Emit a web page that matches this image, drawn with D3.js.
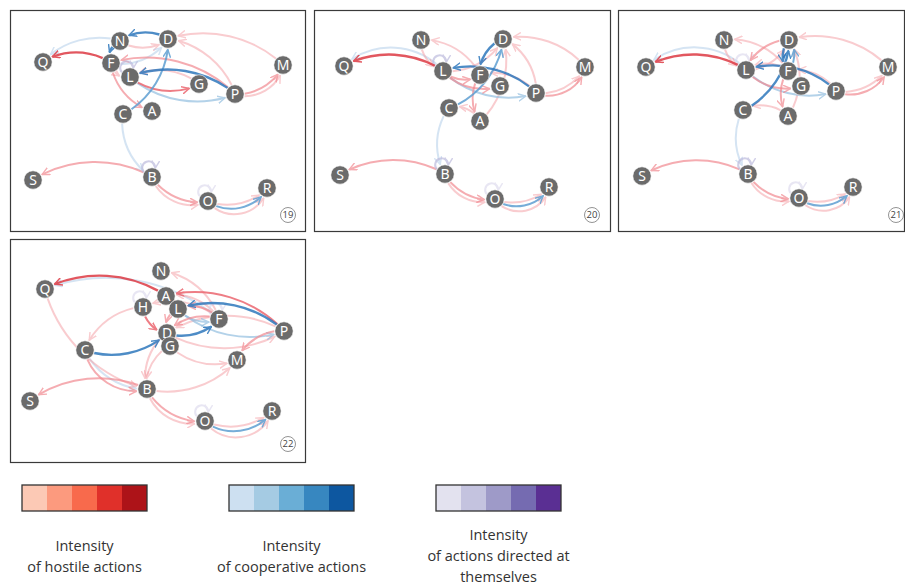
<!DOCTYPE html>
<html><head><meta charset="utf-8">
<script src="https://cdn.jsdelivr.net/npm/d3@7"></script>
<style>body{margin:0;background:#fff}svg{display:block;font-family:"Open Sans",sans-serif}</style>
</head><body><svg id="c" width="905" height="588"></svg>
<script>
// ---------- data ----------
const panelLabels = ["19", "20", "21", "22"];

// node layout per period: [name, x, y] in panel layout units (0..295 x 0..221)
const nodes19 = [["N",110,31],["D",158,29],["Q",33,52],["F",101,53],["M",273,55],["L",120,67],["G",189,74],["P",225,84],["C",113,104],["A",142,101],["S",23,170],["B",142,167],["O",198,191],["R",257,178]];
const nodes20 = [["N",107,30],["D",189,29],["Q",30,56],["L",129,61],["F",166,65],["M",271,57],["G",186,76],["P",222,83],["C",135,98],["A",166,111],["S",26,165],["B",131,164],["O",181,189],["R",235,177]];
const nodes21 = [["N",106,30],["D",171,30],["Q",28,57],["L",128,60],["F",170,61],["M",270,57],["G",183,76],["P",218,81],["C",125,100],["A",170,106],["S",24,166],["B",130,164],["O",181,188],["R",235,177]];
const nodes22 = [["N",151,32],["Q",35,50],["A",156,57],["H",133,68],["L",168,70],["F",209,80],["P",274,92],["D",157,94],["G",160,107],["C",75,111],["M",227,121],["B",137,150],["S",20,162],["O",195,182],["R",262,172]];

// edges: [source, target, kind (h = hostile, c = cooperative, s = self), intensity 1..5]
const edges19 = [["F","Q","h",4],["N","Q","c",1],["D","N","c",4],["N","F","c",4],["N","D","h",1],["M","D","h",1],["P","M","h",2],["P","M","h",1],["P","L","c",4],["L","P","c",2],["L","G","h",3],["F","A","h",2],["C","D","c",3],["F","D","c",1],["P","D","h",1],["P","F","h",2],["G","L","h",1],["F","L","h",1],["L","L","s",2],["C","B","c",1],["B","S","h",2],["B","O","h",2],["B","O","h",1],["O","R","h",1],["O","R","c",3],["O","R","h",1],["B","B","s",2],["O","O","s",1]];
const edges20 = [["L","Q","h",4],["L","Q","c",1],["F","N","h",1],["D","F","c",4],["C","D","c",3],["P","L","c",4],["L","P","c",2],["L","G","h",2],["M","D","h",1],["P","M","h",1],["P","M","h",2],["F","A","h",2],["A","D","h",1],["A","C","h",1],["P","F","h",1],["P","D","h",1],["L","F","h",2],["N","L","h",1],["L","D","h",1],["L","L","s",2],["C","B","c",1],["B","S","h",2],["B","O","h",2],["B","O","h",1],["O","R","h",1],["O","R","c",3],["O","R","h",1],["B","B","s",2],["O","O","s",1]];
const edges21 = [["L","Q","h",4],["L","Q","c",1],["F","N","h",1],["D","F","c",4],["F","D","c",3],["C","D","c",4],["P","L","c",4],["L","P","c",2],["L","G","h",2],["M","D","h",1],["P","M","h",1],["P","M","h",2],["F","A","h",2],["A","C","h",1],["L","D","h",1],["D","L","h",2],["P","F","h",1],["F","L","h",1],["N","L","h",1],["A","D","h",1],["L","L","s",1],["C","B","c",1],["B","S","h",2],["B","O","h",2],["B","O","h",1],["O","R","h",1],["O","R","c",3],["O","R","h",1],["B","B","s",2],["O","O","s",1]];
const edges22 = [["A","Q","h",4],["F","Q","c",1],["F","N","h",1],["P","L","c",4],["P","A","h",3],["D","F","c",4],["C","D","c",4],["C","B","c",1],["C","B","h",2],["B","S","h",2],["B","O","h",2],["B","O","h",1],["O","R","h",1],["O","R","c",3],["O","R","h",1],["H","C","h",1],["Q","B","h",1],["H","D","h",3],["L","F","c",2],["L","P","c",2],["F","L","h",2],["D","P","h",1],["P","D","h",1],["F","D","h",2],["F","A","h",1],["P","M","h",2],["G","M","h",1],["D","B","h",1],["G","B","h",1],["B","M","h",1],["F","H","h",1],["L","D","h",2],["H","H","s",1],["F","F","s",1],["O","O","s",1]];

const legendTitles = [["Intensity","of hostile actions"],["Intensity","of cooperative actions"],["Intensity","of actions directed at","themselves"]];
const levels = [1,2,3,4,5];

// ---------- drawing ----------
const hostileColors = ["#fcc9b5","#fc9a7e","#f86a4c","#e0302a","#ad1318"];
const coopColors    = ["#cde0f1","#a5cbe3","#6aaed6","#3787c0","#0d57a0"];
const selfColors    = ["#e3e2ef","#c4c3df","#9e9ac8","#756bb1","#5a2f93"];
// link strokes (same scales, drawn semi-transparent on white)
const hostileLinks  = ["#f5a3a9","#f28a91","#ec6770","#dd3a44","#b11a22"];
const coopLinks     = ["#b3cfea","#94bfe0","#5f9fd2","#2f78bd","#0d57a0"];
const selfLinks     = ["#d6d3ea","#bdbbdd","#9e9ac8","#756bb1","#5a2f93"];
const palette = {h: d3.scaleOrdinal(levels, hostileLinks), c: d3.scaleOrdinal(levels, coopLinks), s: d3.scaleOrdinal(levels, selfLinks)};

const svg = d3.select("#c");
const defs = svg.append("defs");
["h","c","s"].forEach(k => levels.forEach(l => {
  defs.append("marker").attr("id", `m-${k}${l}`).attr("viewBox","0 -5 10 10")
    .attr("refX", 9).attr("refY", 0).attr("markerWidth", 8.5).attr("markerHeight", 8.5)
    .attr("markerUnits","userSpaceOnUse").attr("orient","auto")
    .append("path").attr("d","M0,-4.5L9,0L0,4.5").attr("fill","none")
    .attr("stroke", palette[k](l)).attr("stroke-width", 1.7);
}));

const frames = [
  {x:10, y:10, w:295, h:221},
  {x:314, y:10, w:296, h:221},
  {x:618, y:10, w:286, h:221},
  {x:10, y:239, w:295, h:223}
];
const nodeSets = [nodes19, nodes20, nodes21, nodes22];
const edgeSets = [edges19, edges20, edges21, edges22];
const R = 9.2;

function arcPath(s, t, k) {
  const dx = t.x - s.x, dy = t.y - s.y, d = Math.hypot(dx, dy);
  const r = d * k;
  const ux = dx / d, uy = dy / d, nx = -uy, ny = ux;
  const half = Math.asin(Math.min(1, d / (2 * r)));
  const c = Math.cos(half), sn = Math.sin(half);
  const sx = s.x + (R + 0.5) * (c * ux + sn * nx), sy = s.y + (R + 0.5) * (c * uy + sn * ny);
  const tx = t.x - (R + 1.5) * (c * ux - sn * nx), ty = t.y - (R + 1.5) * (c * uy - sn * ny);
  return `M${sx},${sy}A${r},${r} 0 0 0 ${tx},${ty}`;
}
function loopPath(n) {
  const a1 = -150 * Math.PI / 180, a2 = -70 * Math.PI / 180;
  const x1 = n.x + R * Math.cos(a1), y1 = n.y + R * Math.sin(a1);
  const x2 = n.x + R * Math.cos(a2), y2 = n.y + R * Math.sin(a2);
  return `M${x1},${y1}A6.5,6.5 0 1 1 ${x2},${y2}`;
}

frames.forEach((f, i) => {
  const g = svg.append("g");
  const xs = d3.scaleLinear().domain([0, 295]).range([f.x, f.x + 295]);
  const ys = d3.scaleLinear().domain([0, 221]).range([f.y, f.y + 221]);
  g.append("rect").attr("x", f.x + 0.5).attr("y", f.y + 0.5).attr("width", f.w).attr("height", f.h)
    .attr("fill", "#fff").attr("stroke", "#3a3a3a").attr("stroke-width", 1.2);

  const nodes = new Map(nodeSets[i].map(([name, x, y]) => [name, {name, x: xs(x), y: ys(y)}]));
  const pairCount = new Map();
  const edges = edgeSets[i].map(([s, t, kind, lvl]) => {
    const key = s + ">" + t;
    const idx = pairCount.get(key) || 0;
    pairCount.set(key, idx + 1);
    return {s, t, kind, lvl, idx};
  }).sort((a, b) => a.lvl - b.lvl);

  const kSeq = [1.0, 0.72, 0.58];
  g.append("g").selectAll("path").data(edges).join("path")
    .attr("d", e => e.kind === "s" ? loopPath(nodes.get(e.s)) : arcPath(nodes.get(e.s), nodes.get(e.t), kSeq[Math.min(e.idx, 2)]))
    .attr("fill", "none")
    .attr("stroke", e => palette[e.kind](e.lvl))
    .attr("stroke-width", e => e.lvl >= 4 ? 2.4 : 2)
    .attr("opacity", e => e.lvl >= 3 ? 0.85 : (e.lvl === 2 ? 0.7 : 0.55))
    .attr("marker-end", e => `url(#m-${e.kind}${e.lvl})`);

  const ng = g.append("g").selectAll("g").data([...nodes.values()]).join("g")
    .attr("transform", d => `translate(${d.x},${d.y})`);
  ng.append("circle").attr("r", R).attr("fill", "#6b6b6b").attr("stroke", "#fff").attr("stroke-width", 0.6);
  ng.append("text").text(d => d.name).attr("text-anchor", "middle").attr("dy", "0.36em")
    .attr("fill", "#fff").attr("font-size", 14).attr("font-family", "'Noto Sans', sans-serif");

  const lx = xs(278), ly = ys(205);
  g.append("circle").attr("cx", lx).attr("cy", ly).attr("r", 7.5).attr("fill", "#fff").attr("stroke", "#777").attr("stroke-width", 0.8);
  g.append("text").attr("x", lx).attr("y", ly).attr("dy", "0.36em").attr("text-anchor", "middle")
    .attr("font-size", 9.5).attr("fill", "#444").text(panelLabels[i]);
});

// ---------- legend ----------
const legendPalettes = [hostileColors, coopColors, selfColors];
const legendX = [22, 229, 436];
legendPalettes.forEach((cols, i) => {
  const x = d3.scaleBand().domain(levels).range([legendX[i], legendX[i] + 125]);
  const lg = svg.append("g");
  lg.selectAll("rect").data(levels).join("rect")
    .attr("x", d => x(d)).attr("y", 485).attr("width", x.bandwidth()).attr("height", 26)
    .attr("fill", (d, j) => cols[j]);
  lg.append("rect").attr("x", legendX[i]).attr("y", 485).attr("width", 125).attr("height", 26)
    .attr("fill", "none").attr("stroke", "#333").attr("stroke-width", 1.3);
  const lines = legendTitles[i];
  const y0 = lines.length === 3 ? 540 : 551;
  lines.forEach((t, j) => {
    lg.append("text").attr("x", legendX[i] + 62.5).attr("y", y0 + j * 21).attr("text-anchor", "middle")
      .attr("font-size", 14.5).attr("fill", "#333").text(t);
  });
});
</script></body></html>
